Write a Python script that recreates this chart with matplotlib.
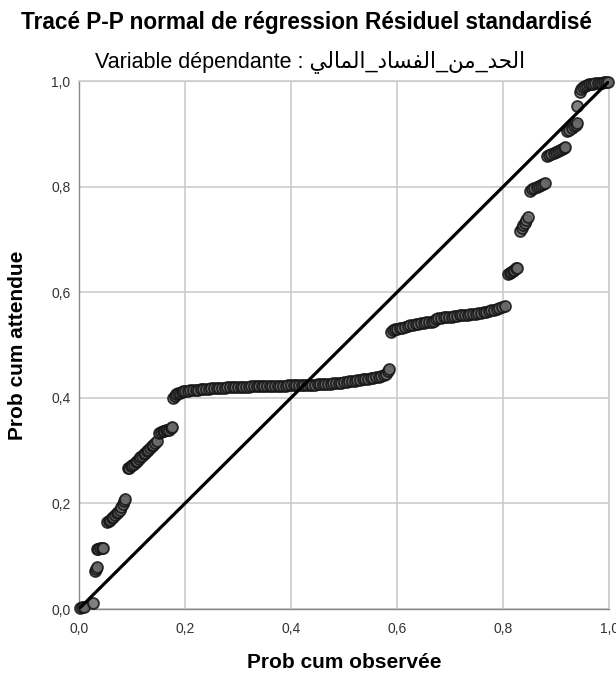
import matplotlib
matplotlib.use("Agg")
import matplotlib.pyplot as plt

plt.rcParams['font.family'] = ['Liberation Sans', 'DejaVu Sans']

obs_prob = [
    0.003, 0.006, 0.009, 0.026,
    0.030, 0.032, 0.034,
    0.034, 0.037, 0.040, 0.043, 0.045,
    0.053, 0.056, 0.059, 0.062, 0.065, 0.068, 0.071, 0.074, 0.077, 0.080,
    0.083, 0.085, 0.087,
    0.092, 0.095, 0.098, 0.101, 0.104, 0.107, 0.110, 0.113, 0.116, 0.119,
    0.122, 0.125, 0.128, 0.131, 0.134, 0.137, 0.140, 0.143, 0.147,
    0.152, 0.155, 0.158, 0.161, 0.164, 0.167, 0.170, 0.173, 0.175,
    0.178, 0.181, 0.184, 0.187, 0.190, 0.194, 0.197,
    0.200, 0.205, 0.210, 0.215, 0.220, 0.225, 0.230, 0.235, 0.240, 0.245,
    0.250, 0.255, 0.260, 0.265, 0.270, 0.275, 0.280, 0.285, 0.290, 0.295,
    0.300, 0.305, 0.310, 0.315, 0.320, 0.325, 0.330, 0.335, 0.340, 0.345,
    0.350, 0.355, 0.360, 0.365, 0.370, 0.375, 0.380, 0.385, 0.390, 0.395,
    0.400, 0.405, 0.410, 0.415, 0.420, 0.425, 0.430, 0.435, 0.440, 0.445,
    0.450, 0.455, 0.460, 0.465, 0.470, 0.475, 0.480, 0.485, 0.490, 0.495,
    0.500, 0.505, 0.510, 0.515, 0.520, 0.525, 0.530, 0.535, 0.540, 0.545,
    0.550, 0.555, 0.560, 0.565, 0.570, 0.575, 0.579, 0.582, 0.585,
    0.589, 0.592, 0.596, 0.600, 0.605, 0.610, 0.615, 0.620, 0.625, 0.630,
    0.635, 0.640, 0.645, 0.650, 0.655, 0.660, 0.665, 0.670,
    0.674, 0.678, 0.683, 0.688, 0.693, 0.698, 0.703, 0.708, 0.713, 0.718,
    0.723, 0.728, 0.733, 0.738, 0.743, 0.748, 0.753, 0.758, 0.763, 0.768,
    0.773, 0.778, 0.783, 0.788, 0.793, 0.798, 0.804,
    0.809, 0.812, 0.815, 0.818, 0.821, 0.824, 0.826,
    0.832, 0.835, 0.838, 0.841, 0.844, 0.847,
    0.851, 0.855, 0.859, 0.863, 0.867, 0.871, 0.875, 0.879,
    0.883, 0.887, 0.891, 0.895, 0.899, 0.903, 0.907, 0.911, 0.914, 0.917,
    0.921, 0.925, 0.929, 0.933, 0.937, 0.940,
    0.940,
    0.944, 0.947, 0.950, 0.954, 0.958, 0.962, 0.966, 0.970, 0.974, 0.978,
    0.982, 0.986, 0.990, 0.994, 0.997,
]
exp_prob = [
    0.001, 0.003, 0.004, 0.011,
    0.072, 0.076, 0.080,
    0.113, 0.114, 0.115, 0.115, 0.116,
    0.165, 0.167, 0.169, 0.172, 0.175, 0.178, 0.181, 0.184, 0.188, 0.193,
    0.199, 0.204, 0.208,
    0.267, 0.268, 0.270, 0.272, 0.275, 0.278, 0.281, 0.284, 0.287, 0.290,
    0.293, 0.296, 0.299, 0.302, 0.305, 0.308, 0.311, 0.314, 0.318,
    0.333, 0.336, 0.338, 0.338, 0.339, 0.339, 0.340, 0.342, 0.345,
    0.400, 0.404, 0.407, 0.409, 0.410, 0.411, 0.412,
    0.412, 0.413, 0.414, 0.414, 0.415, 0.415, 0.416, 0.416, 0.417, 0.417,
    0.418, 0.418, 0.418, 0.419, 0.419, 0.419, 0.420, 0.420, 0.420, 0.420,
    0.421, 0.421, 0.421, 0.421, 0.421, 0.422, 0.422, 0.422, 0.422, 0.422,
    0.422, 0.422, 0.423, 0.423, 0.423, 0.423, 0.423, 0.423, 0.423, 0.424,
    0.424, 0.424, 0.424, 0.424, 0.424, 0.424, 0.425, 0.425, 0.425, 0.425,
    0.426, 0.426, 0.426, 0.427, 0.427, 0.427, 0.428, 0.428, 0.429, 0.429,
    0.430, 0.430, 0.431, 0.432, 0.432, 0.433, 0.434, 0.435, 0.435, 0.436,
    0.437, 0.438, 0.439, 0.440, 0.441, 0.443, 0.446, 0.450, 0.455,
    0.525, 0.528, 0.530, 0.531, 0.532, 0.533, 0.534, 0.536, 0.537, 0.538,
    0.539, 0.540, 0.541, 0.542, 0.543, 0.543, 0.544, 0.545,
    0.549, 0.551, 0.552, 0.553, 0.553, 0.554, 0.554, 0.555, 0.555, 0.556,
    0.556, 0.557, 0.557, 0.558, 0.558, 0.559, 0.560, 0.561, 0.562, 0.563,
    0.564, 0.566, 0.567, 0.568, 0.570, 0.572, 0.574,
    0.635, 0.637, 0.639, 0.641, 0.643, 0.645, 0.646,
    0.716, 0.722, 0.727, 0.732, 0.737, 0.742,
    0.792, 0.795, 0.797, 0.799, 0.801, 0.803, 0.805, 0.806,
    0.858, 0.860, 0.862, 0.864, 0.866, 0.868, 0.870, 0.872, 0.873, 0.875,
    0.905, 0.908, 0.911, 0.914, 0.917, 0.920,
    0.953,
    0.980, 0.985, 0.988, 0.991, 0.993, 0.994, 0.995, 0.995, 0.996, 0.996,
    0.997, 0.997, 0.998, 0.998, 0.999,
]
ticks = [0.0, 0.2, 0.4, 0.6, 0.8, 1.0]
tick_labels = ['0,0', '0,2', '0,4', '0,6', '0,8', '1,0']

title = "Tracé P-P normal de régression Résiduel standardisé"
# Arabic variable name, written in presentation forms and visual (LTR) order
# logical text: الحد_من_الفساد_المالي
arabic_visual = ("\uFEF2\uFEDF\uFE8E\uFEE4\uFEDF\uFE8D_"
                 "\uFEA9\uFE8E\uFEB4\uFED4\uFEDF\uFE8D_"
                 "\uFEE6\uFEE3_"
                 "\uFEAA\uFEA4\uFEDF\uFE8D")
subtitle = "Variable dépendante : " + arabic_visual

fig = plt.figure(figsize=(6.16, 6.81), dpi=100)
ax = fig.add_axes([0.128, 0.1057, 0.861, 0.7753])

ax.grid(True, color='#cccccc', linewidth=1.2)
ax.set_axisbelow(True)

ax.scatter(obs_prob, exp_prob, s=62, facecolor='#6a6a6a', edgecolor='#141414',
           linewidth=1.3, alpha=0.85, zorder=3, clip_on=False)
ax.plot([0, 1], [0, 1], color='black', linewidth=2.3, zorder=4)

ax.set_xlim(0, 1)
ax.set_ylim(0, 1)
ax.set_xticks(ticks)
ax.set_xticklabels(tick_labels)
ax.set_yticks(ticks)
ax.set_yticklabels(tick_labels)
ax.tick_params(length=0, labelsize=10, labelcolor='#333333')
ax.tick_params(axis='x', pad=9)
ax.tick_params(axis='y', pad=6)

for side in ['left', 'bottom']:
    ax.spines[side].set_color('#888888')
    ax.spines[side].set_linewidth(1.0)
for side in ['top', 'right']:
    ax.spines[side].set_color('#cccccc')
    ax.spines[side].set_linewidth(1.2)

ax.set_xlabel('Prob cum observée', fontsize=15, fontweight='bold')
ax.xaxis.label.set_va('center')
ax.xaxis.set_label_coords(0.5, -0.102)
ax.set_ylabel('Prob cum attendue', fontsize=15, fontweight='bold')
ax.yaxis.label.set_va('center')
ax.yaxis.set_label_coords(-0.116, 0.5)

fig.text(0.497, 0.967, title, ha='center', va='center', fontsize=16.3,
         fontweight='bold')
fig.text(0.503, 0.909, subtitle, ha='center', va='center', fontsize=15.5)

fig.savefig('out.png', dpi=100)
